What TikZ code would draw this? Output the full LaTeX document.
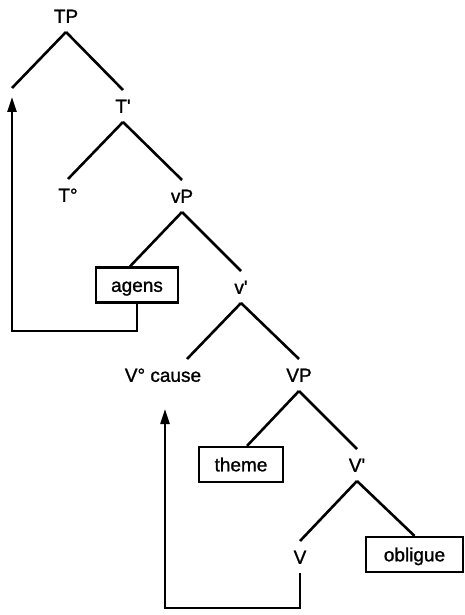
\documentclass[tikz,border=0pt]{standalone}
\usepackage{fontspec}
\setmainfont{Liberation Sans}[FakeBold=1.2]
\usetikzlibrary{arrows.meta}

\begin{document}
\begin{tikzpicture}[x=1pt, y=-1pt,
  lbl/.style={font=\fontsize{19}{22}\selectfont, text height=13.6pt, text depth=0pt, inner xsep=1pt, inner ysep=9pt},
  box/.style={lbl, draw, line width=2.2pt, minimum height=35pt, inner ysep=0pt},
  branch/.style={line width=2.6pt},
  move/.style={line width=2.2pt, -{Triangle[length=15pt,width=9pt]}}]

\useasboundingbox (0,0) rectangle (464,615);

\node[lbl] (TP) at (66,16) {TP};
\coordinate (TPspec) at (12,88);
\node[lbl] (Tbar) at (123,106) {T\textquotesingle};
\node[lbl] (T0) at (68,195) {T°};
\node[lbl] (vP) at (182,196) {vP};
\node[box, minimum width=82pt] (agens) at (137,285) {agens};
\node[lbl] (vbar) at (241,287) {v\textquotesingle};
\node[lbl] (Vcause) at (163,375) {V° cause};
\node[lbl] (VP) at (299,375) {VP};
\node[box, minimum width=84pt] (theme) at (241,464.5) {theme};
\node[lbl] (Vbar) at (357,465) {V\textquotesingle};
\node[lbl] (V) at (300,557) {V};
\node[box, minimum width=97pt] (obligue) at (414.5,554.5) {obligue};

% -------- branches -----------
\draw[branch] (TP.south) -- (TPspec);
\draw[branch] (TP.south) -- (Tbar.north);
\draw[branch] (Tbar.south) -- (T0.north);
\draw[branch] (Tbar.south) -- (vP.north);
\draw[branch] (vP.south) -- ([xshift=-7pt]agens.north);
\draw[branch] (vP.south) -- (vbar.north);
\draw[branch] (vbar.south) -- ([xshift=24pt]Vcause.north);
\draw[branch] (vbar.south) -- (VP.north);
\draw[branch] (VP.south) -- ([xshift=6pt]theme.north);
\draw[branch] (VP.south) -- (Vbar.north);
\draw[branch] (Vbar.south) -- (V.north);
\draw[branch] (Vbar.south) -- (obligue.north);

% -------- movement -----------
\coordinate (agensfoot) at (137,331);
\coordinate (TPland) at (12,97);
\draw[move] (agens.south) -- (agensfoot) -| (TPland);

\coordinate (Vfoot) at (300,608);
\coordinate (Vland) at (165,409);
\draw[move] (V.south) -- (Vfoot) -| (Vland);

\end{tikzpicture}
\end{document}
